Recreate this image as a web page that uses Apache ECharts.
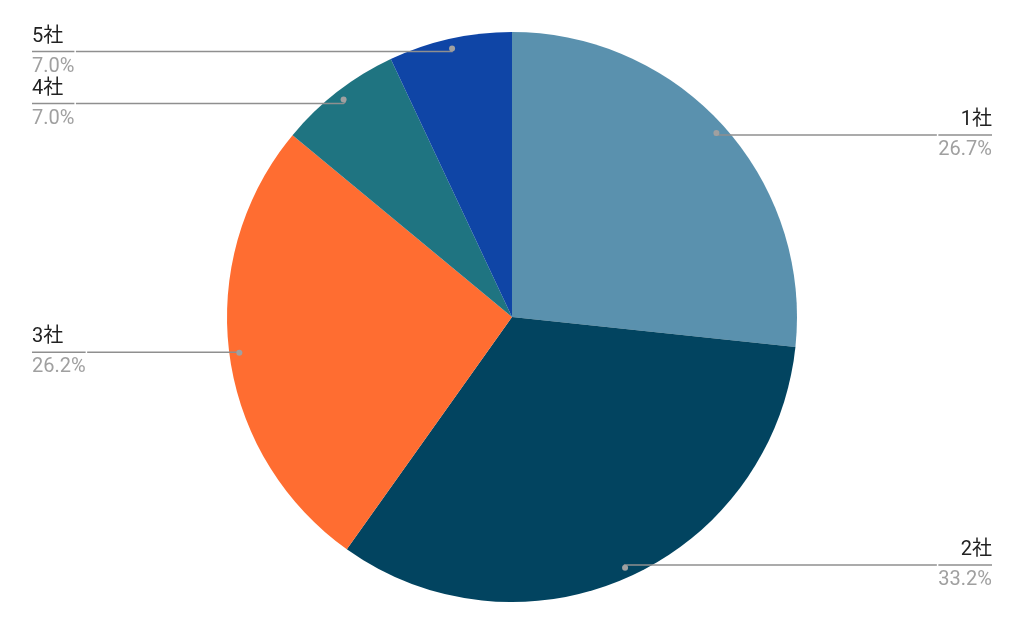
<!DOCTYPE html>
<html>
<head>
<meta charset="utf-8">
<script src="https://cdn.jsdelivr.net/npm/echarts@6/dist/echarts.min.js"></script>
<style>
html,body{margin:0;padding:0;background:#fff;}
#chart{width:1024px;height:634px;}
</style>
</head>
<body>
<div id="chart"></div>
<script>
const categories = ['1社', '2社', '3社', '4社', '5社'];
const shares = [26.7, 33.2, 26.2, 7.0, 7.0];
const colors = ['#5a91ae', '#024460', '#ff6d31', '#1f7481', '#0f45a6'];

const FONT = 'Roboto, "Noto Sans CJK JP", sans-serif';
const data = categories.map((c, i) => ({ name: c, value: shares[i] }));
const CENTER = [512, 317];

const chart = echarts.init(document.getElementById('chart'));
chart.setOption({
  backgroundColor: '#ffffff',
  animation: false,
  series: [
    {
      type: 'pie',
      center: CENTER,
      radius: 285,
      startAngle: 90,
      clockwise: true,
      silent: true,
      data: data.map((d, i) => ({ ...d, itemStyle: { color: colors[i] } })),
      itemStyle: { borderWidth: 0 },
      label: { show: false },
      labelLine: { show: false },
      z: 1
    },
    {
      type: 'pie',
      center: CENTER,
      radius: 272,
      startAngle: 90,
      clockwise: true,
      silent: true,
      data: data,
      itemStyle: { color: 'rgba(0,0,0,0)', borderWidth: 0 },
      label: {
        show: true,
        alignTo: 'edge',
        edgeDistance: 32,
        distanceToLabelLine: 0,
        fontFamily: FONT,
        formatter: p => '{name|' + p.name + '}\n{hr|}\n{per|' + Number(p.value).toFixed(1) + '%}',
        rich: {
          name: { fontSize: 20, color: '#222222', lineHeight: 30, fontFamily: FONT },
          hr: { width: '100%', height: 0, borderColor: '#8f8f8f', borderWidth: 1.5 },
          per: { fontSize: 20, color: '#a0a0a0', lineHeight: 30, fontFamily: FONT }
        }
      },
      labelLine: {
        show: true,
        length: 0,
        length2: 10,
        smooth: false,
        lineStyle: { color: '#8f8f8f', width: 1.5 }
      },
      z: 2
    },
    {
      type: 'pie',
      center: CENTER,
      radius: [266, 278],
      startAngle: 90,
      clockwise: true,
      silent: true,
      data: data,
      itemStyle: { color: 'rgba(0,0,0,0)', borderWidth: 0 },
      label: {
        show: true,
        position: 'inside',
        formatter: '{dot|}',
        rich: { dot: { width: 6, height: 6, borderRadius: 3, backgroundColor: '#a0a0a0' } }
      },
      labelLine: { show: false },
      z: 3
    }
  ]
});
</script>
</body>
</html>
